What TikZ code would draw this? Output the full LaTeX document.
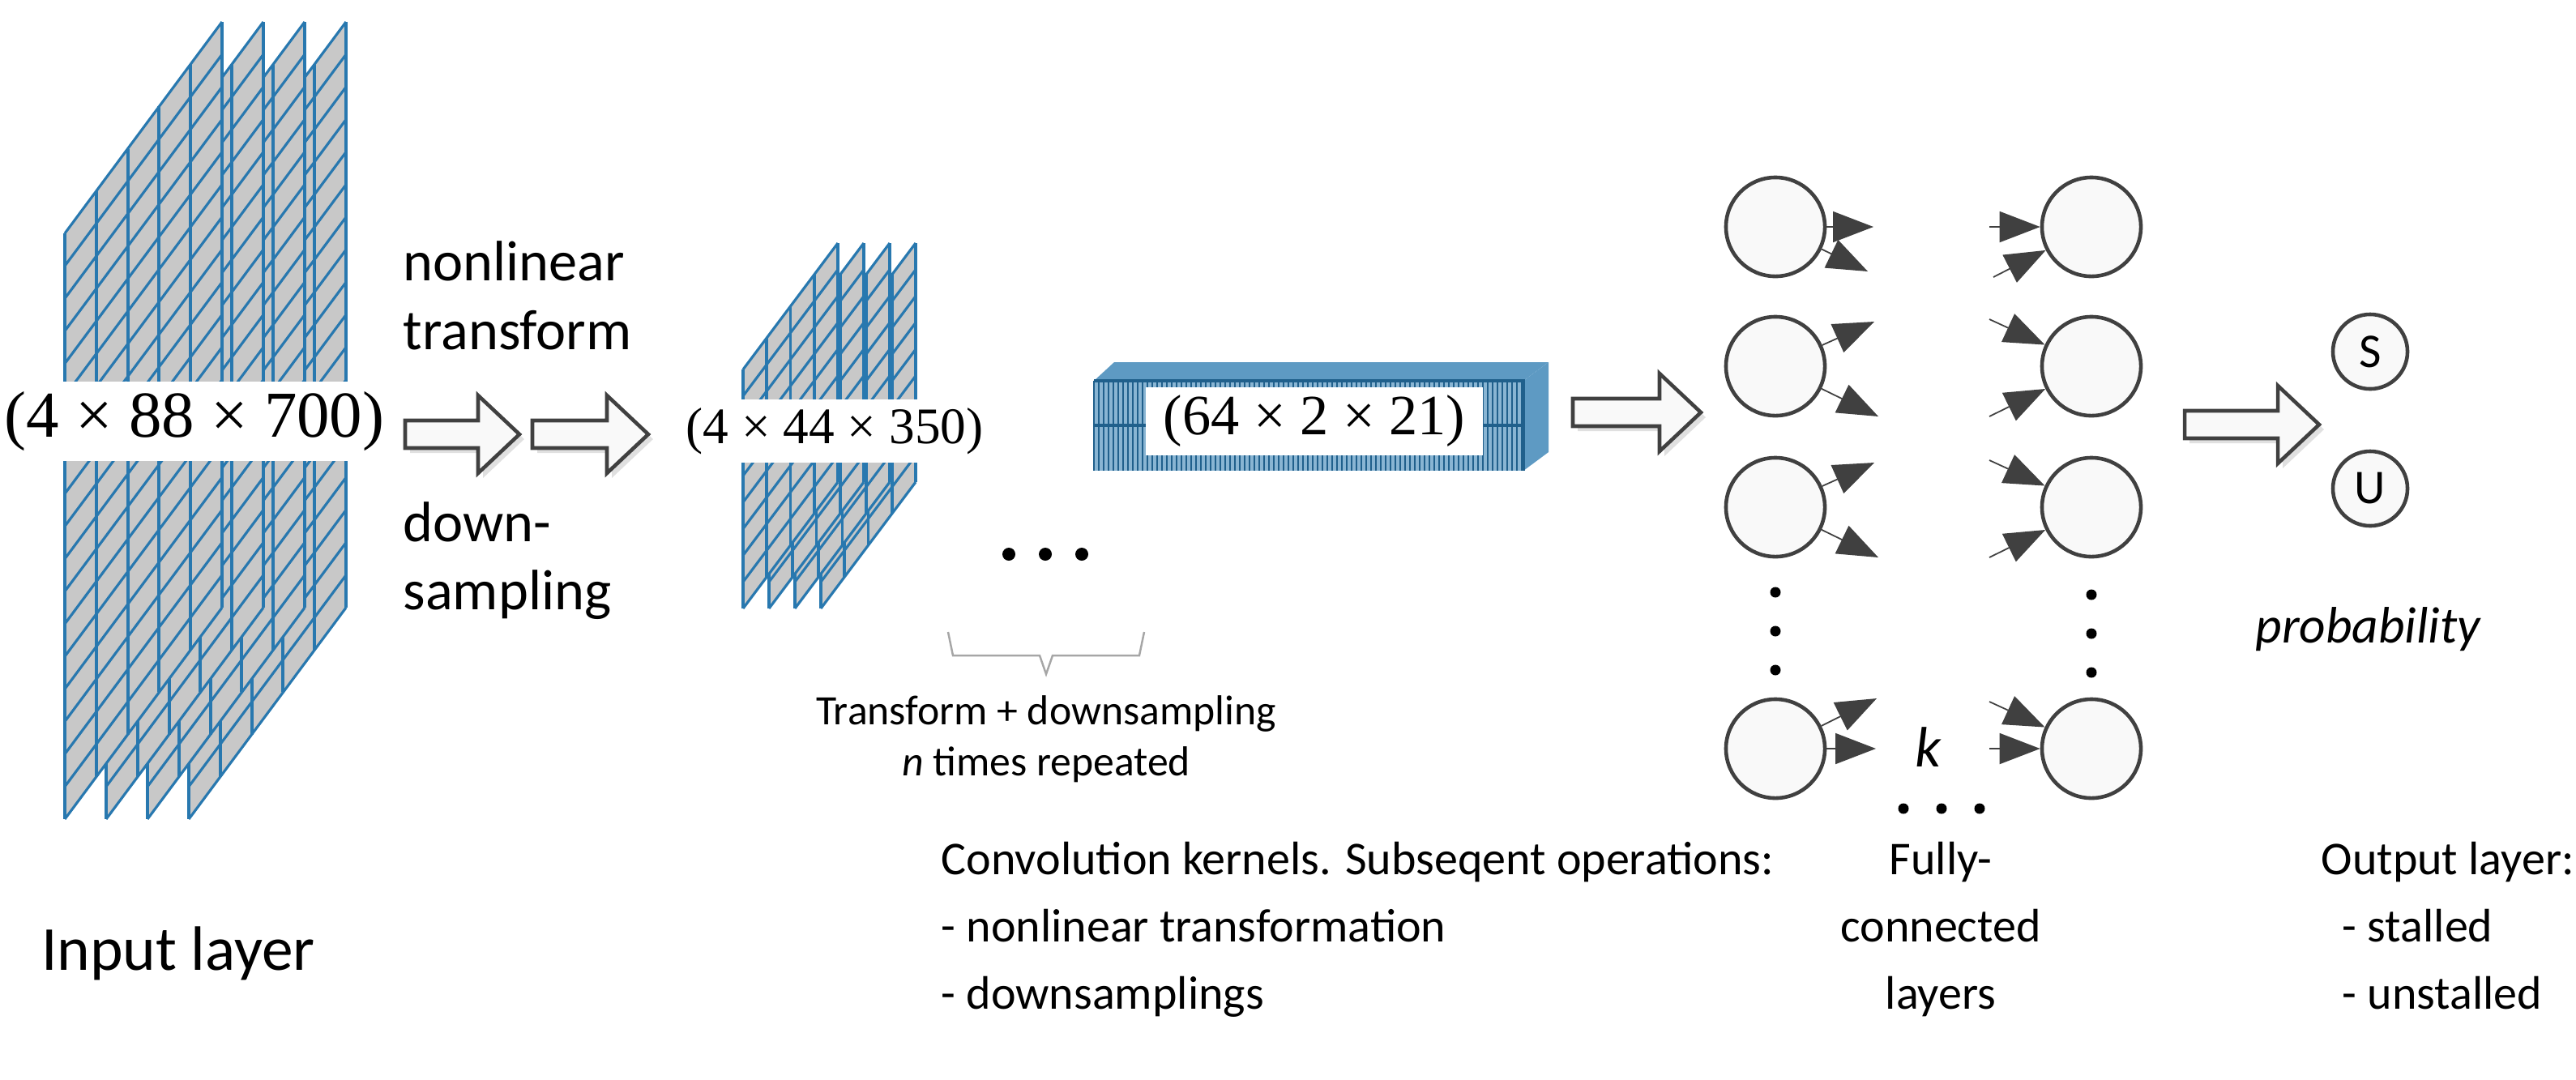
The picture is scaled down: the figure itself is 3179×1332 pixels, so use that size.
\documentclass[tikz,border=0pt]{standalone}
\usepackage{fontspec}
\setmainfont{Carlito}
\newfontfamily\formulafont{Liberation Serif}
\usetikzlibrary{arrows.meta}

\definecolor{gridblue}{RGB}{40,120,175}
\definecolor{sheetgray}{RGB}{200,200,200}
\definecolor{rimgray}{RGB}{64,64,64}

% one slanted feature map: x, y of top-left, width, height, rise, columns, rows
\newcommand{\convsheet}[7]{%
  \fill[sheetgray] ({#1},{#2}) -- ++(#3,-#5) -- ++(0,#4) -- ++(-#3,#5) -- cycle;
  \foreach \i in {0,...,#6}
    {\draw[gridblue, line width=1.1pt] ({#1+\i/#6*#3},{#2-\i/#6*#5}) -- ++(0,#4);}
  \foreach \j in {0,...,#7}
    {\draw[gridblue, line width=0.9pt] ({#1},{#2+\j/#7*#4}) -- ++(#3,-#5);}
}
% hollow block arrow: x start, x tip, y
\newcommand{\blockarrow}[3]{%
  \fill[black!12] (#1+6,#3-11) -- ({#2-51+6},#3-11) -- ({#2-51+6},#3-42) -- (#2+6,#3+6)
    -- ({#2-51+6},#3+54) -- ({#2-51+6},#3+23) -- (#1+6,#3+23) -- cycle;
  \draw[rimgray, fill=gray!5, line width=1.3pt] (#1,#3-17) -- ({#2-51},#3-17) -- ({#2-51},#3-48)
    -- (#2,#3) -- ({#2-51},#3+48) -- ({#2-51},#3+17) -- (#1,#3+17) -- cycle;
}

\tikzset{
  neuron/.style={circle, draw=rimgray, line width=1.3pt, fill=gray!5, minimum size=1.22cm, inner sep=0pt},
  outunit/.style={neuron, minimum size=0.92cm, font=\fontsize{17}{20}\selectfont},
  fc/.style={rimgray, line width=0.5pt, -{Triangle[length=0.5cm, width=0.38cm]}},
  lbl/.style={font=\fontsize{16.5}{23.6}\selectfont, inner sep=0pt},
  dims/.style={fill=white, inner sep=3pt, font=\formulafont\fontsize{23}{26}\selectfont},
  dot/.style={circle, fill=black, minimum size=0.13cm, inner sep=0pt}
}

\begin{document}
\begin{tikzpicture}[x=0.01cm, y=-0.01cm]
\useasboundingbox (0,0) rectangle (3179,1332);

% input layer
\foreach \k in {3,2,1,0}
  {\convsheet{80+51*\k}{288}{194}{723}{261}{5}{18}}
\node[dims, minimum height=0.97cm] (inp) at (240,520) {(4 × 88 × 700)};
\node[lbl, font=\fontsize{22}{26}\selectfont] (inplab) at (220,1177) {Input layer};

\blockarrow{500}{641}{536}
\blockarrow{657}{800}{536}
\node[lbl, font=\fontsize{20}{24}\selectfont, align=left, anchor=west] (nl) at (497,365) {nonlinear\\transform};
\node[lbl, font=\fontsize{20}{24}\selectfont, align=left, anchor=west] (ds) at (497,692) {down-\\sampling};

% second feature maps
\foreach \k in {3,2,1,0}
  {\convsheet{917+32*\k}{456}{117}{295}{156}{4}{9}}
\node[dims, font=\formulafont\fontsize{18}{21}\selectfont, minimum height=0.75cm] (mid) at (1030,532) {(4 × 44 × 350)};

% dots and bracket
\foreach \d in {0,1,2}
  {\node[dot, minimum size=0.16cm] (hd\d) at (1245+45*\d,684) {};}
\draw[gray!70, line width=0.7pt] (1170,780) -- (1176,809) -- (1283,809) -- (1291,832)
  -- (1299,809) -- (1406,809) -- (1412,780);
\node[font=\fontsize{14.7}{18}\selectfont, align=center] (rep) at (1291,912)
  {Transform + downsampling\\\textit{n} times repeated};

% last feature map
\fill[gridblue!75] (1350,470) -- (1375,447) -- (1911,447) -- (1880,470) -- cycle;
\fill[gridblue!75] (1880,470) -- (1911,447) -- (1911,558) -- (1880,581) -- cycle;
\fill[gridblue!55] (1350,470) rectangle (1880,581);
\foreach \i in {0,...,88}
  {\draw[gridblue!80!black, line width=0.4pt] ({1350+\i*6},470) -- ++(0,111);}
\draw[gridblue!80!black, line width=1.2pt] (1350,470) -- (1880,470) -- (1880,581) (1350,525) -- (1880,525);
\node[dims, font=\formulafont\fontsize{20}{23}\selectfont, minimum width=4.15cm, minimum height=0.78cm] (last) at (1622,520) {(64 × 2 × 21)};

\blockarrow{1941}{2099}{509}

% fully connected layers
\foreach \r/\y in {1/280,2/452,3/626,4/924} {
  \node[neuron] (L\r) at (2191,\y) {};
  \node[neuron] (R\r) at (2581,\y) {};
}
\coordinate (l1a) at (2312,280); \coordinate (l1b) at (2305,335);
\coordinate (r1a) at (2455,280); \coordinate (r1b) at (2460,342);
\coordinate (l2a) at (2313,397); \coordinate (l2b) at (2318,514);
\coordinate (r2a) at (2455,394); \coordinate (r2b) at (2455,514);
\coordinate (l3a) at (2313,571); \coordinate (l3b) at (2318,688);
\coordinate (r3a) at (2455,568); \coordinate (r3b) at (2455,688);
\coordinate (l4a) at (2316,862); \coordinate (l4b) at (2315,924);
\coordinate (r4a) at (2455,866); \coordinate (r4b) at (2455,924);
\foreach \r in {1,2,3,4} {
  \draw[fc] (L\r) -- (l\r a);
  \draw[fc] (L\r) -- (l\r b);
  \draw[fc] (r\r a) -- (R\r);
  \draw[fc] (r\r b) -- (R\r);
}
\foreach \d in {0,1,2} {
  \node[dot] (ld\d) at (2191,731+48*\d) {};
  \node[dot] (rd\d) at (2581,734+48*\d) {};
  \node[dot] (bd\d) at (2349+47*\d,998) {};
}
\node[lbl, font=\fontsize{20}{24}\selectfont] (k) at (2380,922) {\textit{k}};
\node[lbl, align=center, anchor=north] (fclab) at (2395,1038) {Fully-\\connected\\layers};

\blockarrow{2696}{2862}{524}

% output layer
\node[outunit] (S) at (2925,434) {S};
\node[outunit] (U) at (2925,603) {U};
\node[lbl, font=\fontsize{18}{21}\selectfont] (prob) at (2923,777) {\textit{probability}};

\node[lbl, align=left, anchor=north west] (conv) at (1161,1038)
  {Convolution kernels. Subseqent operations:\\- nonlinear transformation\\- downsamplings};
\node[lbl, align=left, anchor=north west] (outlab) at (2864,1038)
  {Output layer:\\\ \ - stalled\\\ \ - unstalled};
\end{tikzpicture}
\end{document}
